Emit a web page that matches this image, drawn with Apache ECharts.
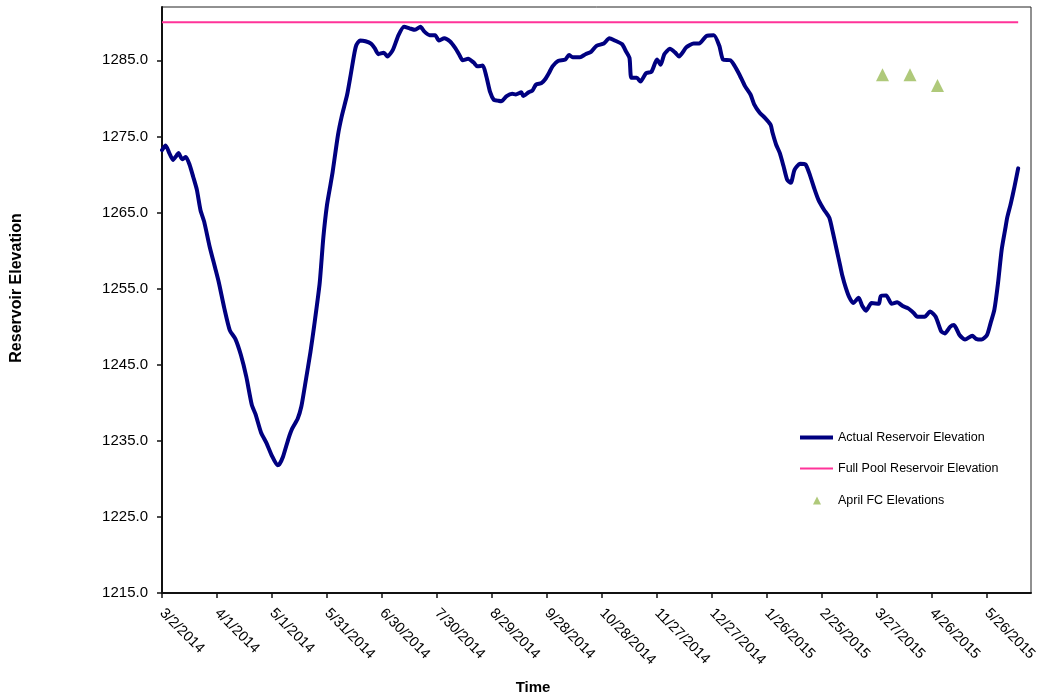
<!DOCTYPE html>
<html>
<head>
<meta charset="utf-8">
<script src="https://cdn.jsdelivr.net/npm/echarts@6/dist/echarts.min.js"></script>
<style>
html,body{margin:0;padding:0;background:#fff;}
#chart{width:1037px;height:700px;}
</style>
</head>
<body>
<div id="chart"></div>
<script>
// ---- data ----
const START_DATE = '2014-03-02';
const END_DATE = '2015-06-19';
const tickDates = ['3/2/2014','4/1/2014','5/1/2014','5/31/2014','6/30/2014','7/30/2014','8/29/2014','9/28/2014','10/28/2014','11/27/2014','12/27/2014','1/26/2015','2/25/2015','3/27/2015','4/26/2015','5/26/2015'];
const yTicks = [1215,1225,1235,1245,1255,1265,1275,1285];

const actualDates = ['2014-03-02','2014-03-04','2014-03-06','2014-03-08','2014-03-10','2014-03-11','2014-03-13','2014-03-15','2014-03-17','2014-03-19','2014-03-21','2014-03-23','2014-03-25','2014-03-28','2014-03-31','2014-04-02','2014-04-05','2014-04-08','2014-04-11','2014-04-14','2014-04-17','2014-04-20','2014-04-22','2014-04-25','2014-04-28','2014-05-01','2014-05-04','2014-05-05','2014-05-07','2014-05-10','2014-05-12','2014-05-15','2014-05-17','2014-05-19','2014-05-22','2014-05-24','2014-05-27','2014-05-29','2014-05-31','2014-06-02','2014-06-03','2014-06-06','2014-06-08','2014-06-11','2014-06-13','2014-06-15','2014-06-16','2014-06-18','2014-06-21','2014-06-24','2014-06-26','2014-06-28','2014-07-01','2014-07-03','2014-07-06','2014-07-09','2014-07-12','2014-07-15','2014-07-18','2014-07-21','2014-07-23','2014-07-26','2014-07-29','2014-07-31','2014-08-03','2014-08-06','2014-08-09','2014-08-11','2014-08-13','2014-08-16','2014-08-19','2014-08-21','2014-08-24','2014-08-26','2014-08-28','2014-08-30','2014-09-01','2014-09-03','2014-09-06','2014-09-09','2014-09-11','2014-09-14','2014-09-15','2014-09-18','2014-09-20','2014-09-22','2014-09-25','2014-09-27','2014-09-29','2014-10-01','2014-10-04','2014-10-08','2014-10-10','2014-10-12','2014-10-16','2014-10-19','2014-10-22','2014-10-25','2014-10-29','2014-11-01','2014-11-04','2014-11-08','2014-11-10','2014-11-12','2014-11-13','2014-11-16','2014-11-18','2014-11-21','2014-11-24','2014-11-27','2014-11-29','2014-12-01','2014-12-04','2014-12-07','2014-12-09','2014-12-13','2014-12-17','2014-12-20','2014-12-24','2014-12-28','2014-12-31','2015-01-02','2015-01-06','2015-01-08','2015-01-11','2015-01-14','2015-01-17','2015-01-19','2015-01-22','2015-01-25','2015-01-28','2015-01-29','2015-01-31','2015-02-02','2015-02-04','2015-02-06','2015-02-08','2015-02-10','2015-02-13','2015-02-16','2015-02-18','2015-02-21','2015-02-23','2015-02-26','2015-03-01','2015-03-03','2015-03-05','2015-03-07','2015-03-08','2015-03-10','2015-03-12','2015-03-14','2015-03-17','2015-03-19','2015-03-21','2015-03-24','2015-03-28','2015-03-29','2015-04-01','2015-04-04','2015-04-07','2015-04-10','2015-04-13','2015-04-16','2015-04-18','2015-04-22','2015-04-25','2015-04-28','2015-05-01','2015-05-03','2015-05-06','2015-05-08','2015-05-11','2015-05-14','2015-05-18','2015-05-20','2015-05-23','2015-05-26','2015-05-28','2015-05-30','2015-06-01','2015-06-03','2015-06-05','2015-06-06','2015-06-08','2015-06-10','2015-06-12'];
const actualValues = [1273.2,1273.8,1272.8,1271.9,1272.5,1272.8,1272.0,1272.3,1271.3,1269.7,1268.0,1265.3,1263.8,1260.5,1257.7,1255.8,1252.4,1249.5,1248.4,1246.3,1243.4,1239.7,1238.5,1236.1,1234.7,1233.0,1231.8,1231.9,1232.9,1235.3,1236.6,1237.9,1239.5,1242.3,1246.7,1250.1,1255.7,1261.7,1266.0,1268.8,1270.2,1275.2,1277.6,1280.5,1283.2,1286.0,1287.0,1287.6,1287.5,1287.2,1286.6,1285.8,1286.0,1285.5,1286.4,1288.3,1289.4,1289.2,1289.0,1289.4,1288.8,1288.3,1288.3,1287.6,1287.9,1287.5,1286.6,1285.8,1285.0,1285.2,1284.7,1284.2,1284.3,1282.8,1280.8,1279.8,1279.7,1279.6,1280.3,1280.6,1280.5,1280.8,1280.3,1280.8,1281.0,1281.8,1282.0,1282.5,1283.3,1284.2,1284.9,1285.1,1285.7,1285.4,1285.4,1285.8,1286.1,1286.9,1287.2,1287.9,1287.6,1287.1,1286.2,1285.3,1282.7,1282.7,1282.2,1283.3,1283.5,1285.1,1284.4,1285.8,1286.5,1286.0,1285.5,1286.7,1287.2,1287.2,1288.2,1288.3,1286.9,1285.1,1285.0,1284.4,1283.1,1281.6,1280.5,1279.2,1278.1,1277.4,1276.5,1275.5,1273.9,1272.8,1271.1,1269.3,1268.9,1270.6,1271.4,1271.3,1270.2,1268.0,1266.7,1265.4,1264.3,1262.3,1260.1,1257.9,1256.8,1255.1,1253.8,1253.1,1253.8,1252.7,1252.1,1253.1,1253.0,1254.0,1254.1,1253.0,1253.2,1252.7,1252.4,1251.8,1251.3,1251.3,1252.0,1251.3,1249.4,1249.1,1250.0,1250.2,1248.9,1248.3,1248.8,1248.4,1248.3,1248.9,1250.5,1252.2,1255.7,1260.1,1262.9,1264.3,1266.2,1268.4,1270.8];

const fullPoolDates = ['2014-03-02','2015-06-12'];
const fullPoolValues = [1290.0,1290.0];

const fcDates = ['2015-03-30','2015-04-14','2015-04-29'];
const fcValues = [1283.1,1283.1,1281.7];

// ---- helpers ----
const DAY = 86400000;
function toUTC(s){ const p = s.split('-').map(Number); return Date.UTC(p[0], p[1]-1, p[2]); }
function mdyToUTC(s){ const p = s.split('/').map(Number); return Date.UTC(p[2], p[0]-1, p[1]); }
const t0 = toUTC(START_DATE);
function dayOf(s){ return Math.round((toUTC(s) - t0) / DAY); }
function dayLabel(d){ const dt = new Date(t0 + d*DAY); return (dt.getUTCMonth()+1)+'/'+dt.getUTCDate()+'/'+dt.getUTCFullYear(); }
const xTickDays = tickDates.map(s => Math.round((mdyToUTC(s) - t0)/DAY));
const xMax = dayOf(END_DATE);

const FONT = 'Liberation Sans, Arial, sans-serif';
const chart = echarts.init(document.getElementById('chart'), null, {renderer:'canvas'});
chart.setOption({
  animation: false,
  backgroundColor: '#fff',
  grid: { left: 162, top: 7, right: 6, bottom: 107, show: true, borderColor: '#222', borderWidth: 1,
          containLabel: false, outerBoundsMode: 'none' },
  xAxis: {
    type: 'value', min: 0, max: xMax, interval: 30,
    axisLine: { show: true, lineStyle: { color: '#111', width: 2 } },
    axisTick: { show: true, length: 5, lineStyle: { color: '#111', width: 1.5 }, customValues: xTickDays },
    axisLabel: { customValues: xTickDays, rotate: -45, margin: 18, fontSize: 14.5, color: '#000', fontFamily: FONT,
      formatter: v => dayLabel(v) },
    splitLine: { show: false }
  },
  yAxis: {
    type: 'value', min: 1215, max: 1292,
    axisLine: { show: true, lineStyle: { color: '#111', width: 2 } },
    axisTick: { show: true, length: 5, lineStyle: { color: '#111', width: 1.5 }, customValues: yTicks },
    axisLabel: { customValues: yTicks, margin: 14, fontSize: 15, color: '#000', fontFamily: FONT,
      formatter: v => v.toFixed(1) },
    splitLine: { show: false }
  },
  legend: [
    { orient: 'vertical', left: 800, top: 431, padding: 0, itemWidth: 33, itemHeight: 14, itemGap: 18,
      textStyle: { fontSize: 12.5, color: '#000', fontFamily: FONT },
      data: [
        { name: 'Actual Reservoir Elevation', icon: 'path://M0,0L33,0L33,4L0,4Z', itemStyle: { color: '#000080' } },
        { name: 'Full Pool Reservoir Elevation', icon: 'path://M0,0L33,0L33,2L0,2Z', itemStyle: { color: '#ff3399' } }
      ] },
    { orient: 'vertical', left: 813, top: 494, padding: 0, itemWidth: 8, itemHeight: 8,
      textStyle: { fontSize: 12.5, color: '#000', fontFamily: FONT, padding: [0, 0, 0, 12] },
      data: [ { name: 'April FC Elevations', icon: 'triangle', itemStyle: { color: '#9bbb59' } } ] }
  ],
  series: [
    { name: 'Actual Reservoir Elevation', type: 'line', symbol: 'none', smooth: 0.2,
      lineStyle: { color: '#000080', width: 4, join: 'round', cap: 'round' }, itemStyle: { color: '#000080' },
      data: actualDates.map((d,i) => [dayOf(d), actualValues[i]]) },
    { name: 'Full Pool Reservoir Elevation', type: 'line', symbol: 'none',
      lineStyle: { color: '#ff3399', width: 2 }, itemStyle: { color: '#ff3399' },
      data: fullPoolDates.map((d,i) => [dayOf(d), fullPoolValues[i]]) },
    { name: 'April FC Elevations', type: 'scatter', symbol: 'triangle', symbolSize: 13,
      itemStyle: { color: '#9bbb59' },
      data: fcDates.map((d,i) => [dayOf(d), fcValues[i]]) }
  ],
  graphic: [
    { type: 'text', x: 17, y: 288, rotation: Math.PI/2,
      style: { text: 'Reservoir Elevation', fontSize: 16, fontWeight: 'bold', fontFamily: FONT, fill: '#000', align: 'center', verticalAlign: 'middle' } },
    { type: 'text', x: 533, y: 688,
      style: { text: 'Time', fontSize: 15, fontWeight: 'bold', fontFamily: FONT, fill: '#000', align: 'center', verticalAlign: 'middle' } }
  ]
});
</script>
</body>
</html>
